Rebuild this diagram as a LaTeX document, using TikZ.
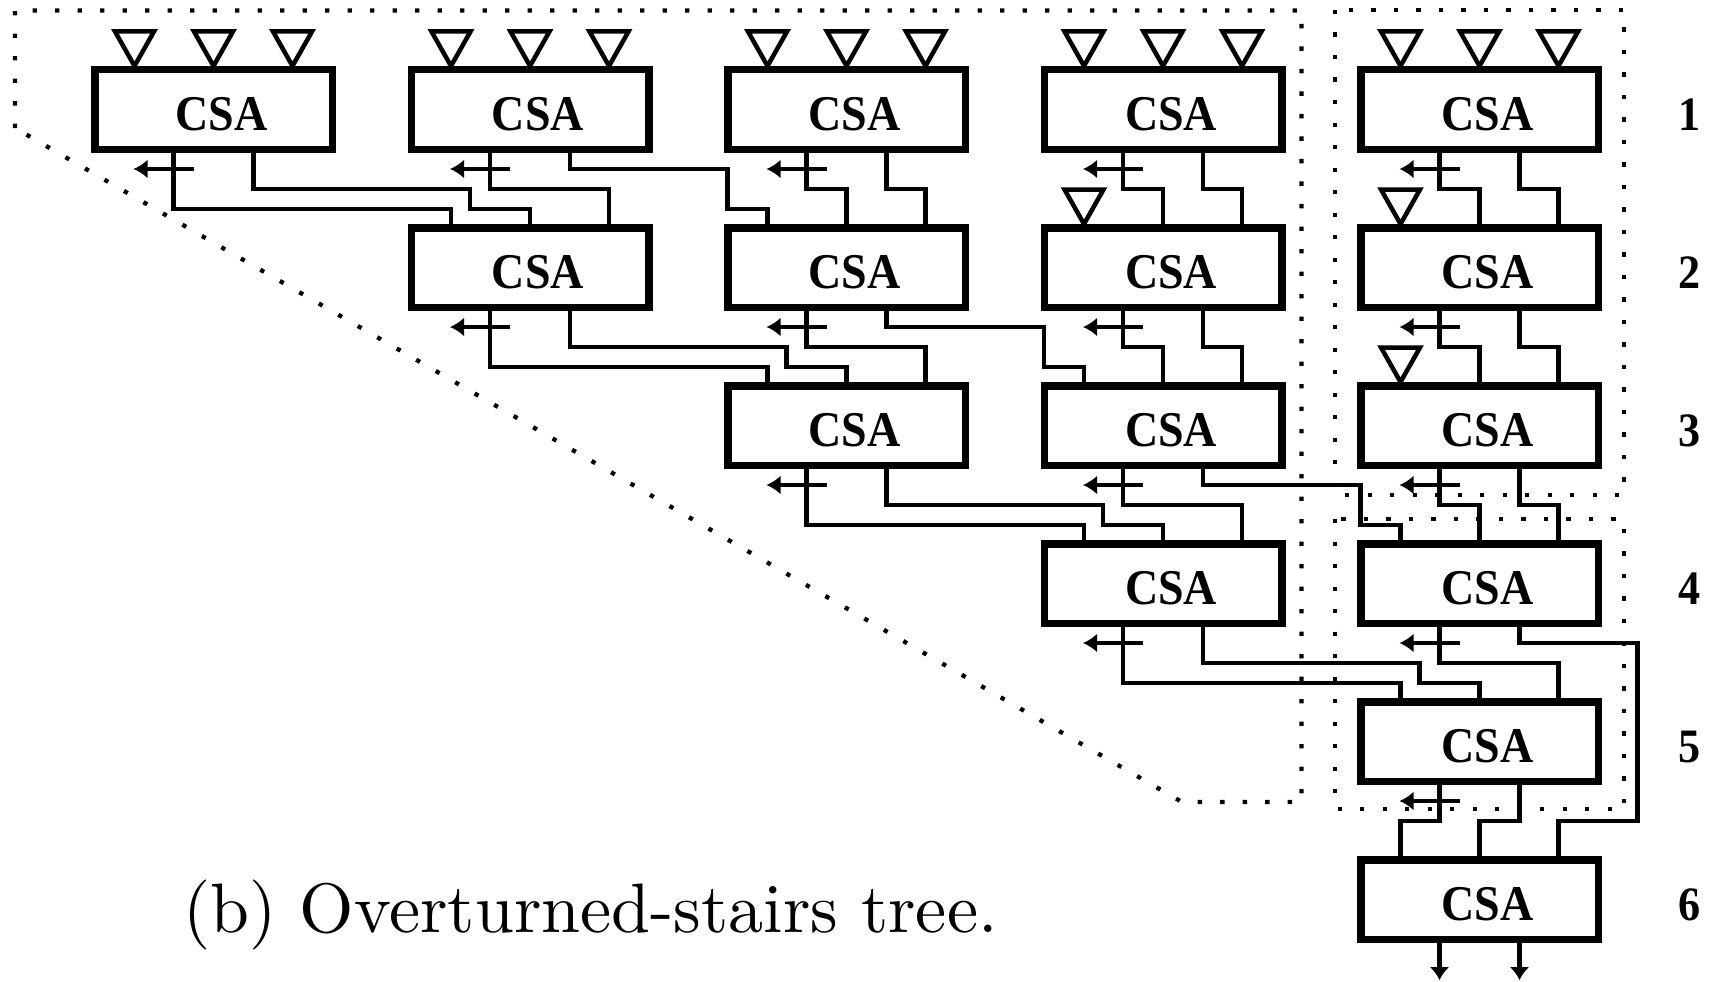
\documentclass[tikz,border=0pt]{standalone}
\usepackage{fontspec}
\newfontfamily\tms[FakeStretch=0.92]{Liberation Serif}
\newfontfamily\lmten{lmroman10-regular.otf}
\usetikzlibrary{arrows.meta}
\begin{document}
\begin{tikzpicture}[x=1pt,y=-1pt,
  csa/.style={draw, line width=7.5pt, fill=white, minimum width=237.5pt, minimum height=79.5pt,
    inner sep=0pt, font=\tms\bfseries\fontsize{50}{50}\selectfont, text height=41pt, text depth=0pt},
  lab/.style={inner sep=0pt, font=\tms\bfseries\fontsize{48}{48}\selectfont, text height=41pt, text depth=0pt},
  wire/.style={line width=4.5pt, line join=miter},
  carry/.style={wire, -{Latex[length=14pt,width=19pt]}},
  outarrow/.style={wire, -{Latex[length=13pt,width=20pt]}},
  tri/.style={draw, line width=4.5pt, fill=white, line join=miter},
  dots/.style={line width=4.3pt, dash pattern=on 4.3pt off 18.2pt}
]
\useasboundingbox (0,0) rectangle (1711,982);

% dotted regions
\draw[dots] (15,128) -- (15,10.5) -- (1301.5,10.5) -- (1301.5,802) -- (1182,802) -- cycle;
\draw[dots] (1335,10) rectangle (1624,495);
\draw[dots] (1335,519) rectangle (1624,809);

% boxes
\node[csa] (b11) at (213.5,109.5) {\hspace*{16pt}CSA};
\node[csa] (b12) at (530,109.5) {\hspace*{16pt}CSA};
\node[csa] (b13) at (846.5,109.5) {\hspace*{16pt}CSA};
\node[csa] (b14) at (1163,109.5) {\hspace*{16pt}CSA};
\node[csa] (b15) at (1479.5,109.5) {\hspace*{16pt}CSA};
\node[csa] (b22) at (530,267.5) {\hspace*{16pt}CSA};
\node[csa] (b23) at (846.5,267.5) {\hspace*{16pt}CSA};
\node[csa] (b24) at (1163,267.5) {\hspace*{16pt}CSA};
\node[csa] (b25) at (1479.5,267.5) {\hspace*{16pt}CSA};
\node[csa] (b33) at (846.5,425.5) {\hspace*{16pt}CSA};
\node[csa] (b34) at (1163,425.5) {\hspace*{16pt}CSA};
\node[csa] (b35) at (1479.5,425.5) {\hspace*{16pt}CSA};
\node[csa] (b44) at (1163,583.5) {\hspace*{16pt}CSA};
\node[csa] (b45) at (1479.5,583.5) {\hspace*{16pt}CSA};
\node[csa] (b55) at (1479.5,741.5) {\hspace*{16pt}CSA};
\node[csa] (b65) at (1479.5,899.5) {\hspace*{16pt}CSA};

% row labels
\node[lab] (l1) at (1689.5,109.5) {1};
\node[lab] (l2) at (1689.5,267.5) {2};
\node[lab] (l3) at (1689.5,425.5) {3};
\node[lab] (l4) at (1689.5,583.5) {4};
\node[lab] (l5) at (1689.5,741.5) {5};
\node[lab] (l6) at (1689.5,899.5) {6};

% input triangles
\foreach \b in {b11,b12,b13,b14,b15}{
  \foreach \s in {-79,0,79}{
    \draw[tri] ([xshift=\s pt]\b.north) -- ++(-19.5,-34.5) -- ++(39,0) -- cycle;
  }
}
\draw[tri] ([xshift=-79pt]b24.north) -- ++(-19.5,-34.5) -- ++(39,0) -- cycle;
\draw[tri] ([xshift=-79pt]b25.north) -- ++(-19.5,-34.5) -- ++(39,0) -- cycle;
\draw[tri] ([xshift=-79pt]b35.north) -- ++(-19.5,-34.5) -- ++(39,0) -- cycle;

% carry-out arrows
\foreach \b in {b11,b12,b13,b14,b15,b22,b23,b24,b25,b33,b34,b35,b44,b45,b55}{
  \draw[carry] ([xshift=-20pt,yshift=-16pt]\b.south) -- ++(-60,0);
}

% row 1 -> row 2
\draw[wire] ([xshift=-40pt]b11.south) -- ++(0,56) -| ([xshift=-79pt]b22.north);
\draw[wire] ([xshift=40pt]b11.south) -- ++(0,36) -| ([xshift=-60pt,yshift=15pt]b22.north) -| (b22.north);
\draw[wire] ([xshift=-40pt]b12.south) -- ++(0,36) -| ([xshift=79pt]b22.north);
\draw[wire] ([xshift=40pt]b12.south) -- ++(0,16) -| ([xshift=-119pt,yshift=15pt]b23.north) -| ([xshift=-79pt]b23.north);
\draw[wire] ([xshift=-40pt]b13.south) -- ++(0,36) -| (b23.north);
\draw[wire] ([xshift=40pt]b13.south) -- ++(0,36) -| ([xshift=79pt]b23.north);
\draw[wire] ([xshift=-40pt]b14.south) -- ++(0,36) -| (b24.north);
\draw[wire] ([xshift=40pt]b14.south) -- ++(0,36) -| ([xshift=79pt]b24.north);
\draw[wire] ([xshift=-40pt]b15.south) -- ++(0,36) -| (b25.north);
\draw[wire] ([xshift=40pt]b15.south) -- ++(0,36) -| ([xshift=79pt]b25.north);

% row 2 -> row 3
\draw[wire] ([xshift=-40pt]b22.south) -- ++(0,56) -| ([xshift=-79pt]b33.north);
\draw[wire] ([xshift=40pt]b22.south) -- ++(0,36) -| ([xshift=-60pt,yshift=15pt]b33.north) -| (b33.north);
\draw[wire] ([xshift=-40pt]b23.south) -- ++(0,36) -| ([xshift=79pt]b33.north);
\draw[wire] ([xshift=40pt]b23.south) -- ++(0,16) -| ([xshift=-119pt,yshift=15pt]b34.north) -| ([xshift=-79pt]b34.north);
\draw[wire] ([xshift=-40pt]b24.south) -- ++(0,36) -| (b34.north);
\draw[wire] ([xshift=40pt]b24.south) -- ++(0,36) -| ([xshift=79pt]b34.north);
\draw[wire] ([xshift=-40pt]b25.south) -- ++(0,36) -| (b35.north);
\draw[wire] ([xshift=40pt]b25.south) -- ++(0,36) -| ([xshift=79pt]b35.north);

% row 3 -> row 4
\draw[wire] ([xshift=-40pt]b33.south) -- ++(0,56) -| ([xshift=-79pt]b44.north);
\draw[wire] ([xshift=40pt]b33.south) -- ++(0,36) -| ([xshift=-60pt,yshift=15pt]b44.north) -| (b44.north);
\draw[wire] ([xshift=-40pt]b34.south) -- ++(0,36) -| ([xshift=79pt]b44.north);
\draw[wire] ([xshift=40pt]b34.south) -- ++(0,16) -| ([xshift=-119pt,yshift=15pt]b45.north) -| ([xshift=-79pt]b45.north);
\draw[wire] ([xshift=-40pt]b35.south) -- ++(0,36) -| (b45.north);
\draw[wire] ([xshift=40pt]b35.south) -- ++(0,36) -| ([xshift=79pt]b45.north);

% row 4 -> row 5
\draw[wire] ([xshift=-40pt]b44.south) -- ++(0,56) -| ([xshift=-79pt]b55.north);
\draw[wire] ([xshift=40pt]b44.south) -- ++(0,36) -| ([xshift=-60pt,yshift=15pt]b55.north) -| (b55.north);
\draw[wire] ([xshift=-40pt]b45.south) -- ++(0,36) -| ([xshift=79pt]b55.north);
\draw[wire] ([xshift=40pt]b45.south) -- ++(0,16) -| ([xshift=158pt,yshift=-36pt]b55.south) -| ([xshift=79pt]b65.north);

% row 5 -> row 6
\draw[wire] ([xshift=-40pt]b55.south) -- ++(0,36) -| ([xshift=-79pt]b65.north);
\draw[wire] ([xshift=40pt]b55.south) -- ++(0,36) -| (b65.north);

% final outputs
\draw[outarrow] ([xshift=-40pt]b65.south) -- ++(0,37);
\draw[outarrow] ([xshift=40pt]b65.south) -- ++(0,37);

% caption
\node[anchor=base west, inner sep=0pt, font=\lmten\fontsize{70}{80}\selectfont] (cap) at (183,932) {(b) Overturned-stairs tree.};
\end{tikzpicture}
\end{document}
